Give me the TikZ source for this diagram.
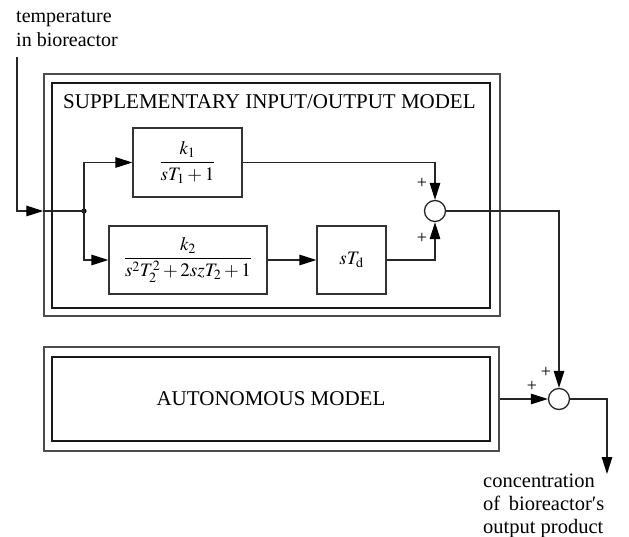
\documentclass[tikz,border=0pt]{standalone}
\usepackage{mathptmx}
\usepackage{fontspec}
\setmainfont{Liberation Serif}
\usetikzlibrary{arrows.meta,calc}
\begin{document}
\begin{tikzpicture}[x=1pt,y=-1pt,
  every node/.style={font=\fontsize{19}{23}\selectfont},
  line/.style={line width=1.3pt, draw=black!85},
  arr/.style={line, -{Triangle[length=17pt,width=10.5pt,fill=black,color=black]}},
  outerbox/.style={draw=black!70, line width=1.4pt, minimum width=#1, inner sep=0pt},
  innerbox/.style={draw=black!90, line width=2.5pt, inner sep=0pt},
  blockbox/.style={draw=black!80, line width=1.3pt, inner sep=0pt},
  sumnode/.style={circle, draw=black!85, line width=1.3pt, minimum size=21pt, inner sep=0pt},
  plus/.style={font=\fontsize{18}{18}\selectfont, inner sep=0pt},
  lbl/.style={anchor=base west, inner sep=0pt},
  title/.style={inner sep=0pt, font=\fontsize{21}{24}\selectfont}
]
\useasboundingbox (0,0) rectangle (629,537);

% upper model
\node[outerbox=456pt, minimum height=242pt] (uo) at (272,195) {};
\node[innerbox, minimum width=438pt, minimum height=225pt] (ui) at (271,195.5) {};
\node[title, anchor=west] (utitle) at (63,102) {SUPPLEMENTARY INPUT/OUTPUT MODEL};

% lower model
\node[outerbox=455pt, minimum height=104pt] (lo) at (271.5,399) {};
\node[innerbox, minimum width=438pt, minimum height=84pt] (li) at (271,399) {};
\node[title] (ltitle) at (271,399) {AUTONOMOUS MODEL};

% blocks
\node[blockbox, minimum width=109pt, minimum height=69pt] (k1) at (187.5,162.5)
  {$\displaystyle\frac{k_1}{sT_1+1}$};
\node[blockbox, minimum width=158pt, minimum height=68pt] (k2) at (188,260)
  {$\displaystyle\frac{k_2}{s^2T_2^2+2szT_2+1}$};
\node[blockbox, minimum width=69pt, minimum height=68pt] (td) at (351.5,260)
  {$sT_{\mathrm{d}}$};

\node[sumnode] (s1) at (435,211) {};
\node[sumnode] (s2) at (559,399) {};
\fill[black] (84,211) circle (2.6pt) coordinate (dot);
\coordinate (intop) at (17,57);
\coordinate (outend) at (607,474);

% labels
\node[lbl, font=\fontsize{20}{23}\selectfont] (in1) at (16,23) {temperature};
\node[lbl, font=\fontsize{20}{23}\selectfont] (in2) at (16,47) {in bioreactor};
\node[lbl, font=\fontsize{20.5}{23}\selectfont] (o1) at (483,487) {concentration};
\node[lbl, font=\fontsize{20.5}{23}\selectfont] (o2) at (483,510) {of\, bioreactor′s};
\node[lbl, font=\fontsize{20.5}{23}\selectfont] (o3) at (483,533) {output product};

\node[plus] (p1) at (422,183) {+};
\node[plus] (p2) at (422,238) {+};
\node[plus] (p3) at (546,372) {+};
\node[plus] (p4) at (532,386) {+};

% connectors
\draw[arr] (intop) |- (uo.west |- dot);
\draw[line] (uo.west |- dot) -- (dot);
\draw[arr] (dot) |- (k1.west);
\draw[arr] (dot) |- (k2.west);
\draw[arr] (k2.east) -- (td.west);
\draw[arr] (k1.east) -| (s1.north);
\draw[arr] (td.east) -| (s1.south);
\draw[arr] (s1.east) -| (s2.north);
\draw[arr] (lo.east |- s2) -- (s2.west);
\draw[arr] (s2.east) -| (outend);
\end{tikzpicture}
\end{document}
